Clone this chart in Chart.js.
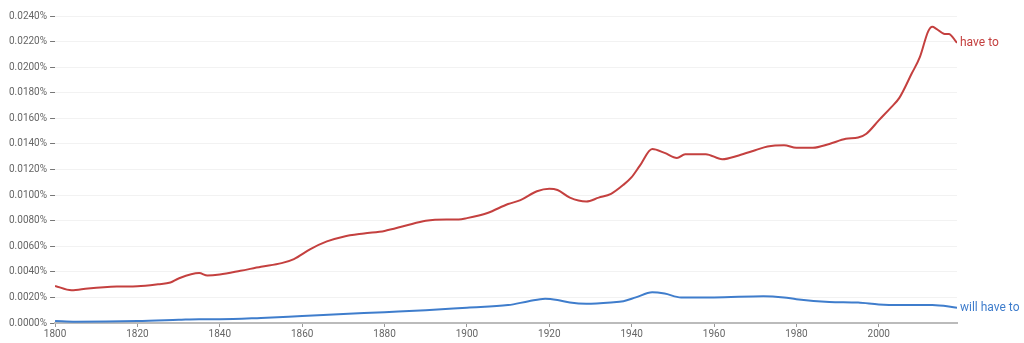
<!DOCTYPE html>
<html>
<head>
<meta charset="utf-8">
<script src="https://cdn.jsdelivr.net/npm/chart.js@4"></script>
<style>
  body { margin: 0; background: #fff; }
  #wrap { width: 1024px; height: 343px; }
</style>
</head>
<body>
<div id="wrap"><canvas id="ngram" width="1024" height="343"></canvas></div>
<script>
// values (percent of all bigrams)
var haveToYears = [1800,1804,1808,1815,1820,1825,1828,1830,1835,1837,1840,1845,1850,1855,1858,1862,1866,1870,1875,1880,1885,1890,1895,1898,1900,1905,1910,1913,1917,1920,1922,1925,1929,1932,1935,1938,1940,1942,1945,1948,1951,1953,1958,1962,1966,1970,1973,1977,1980,1984,1988,1992,1995,1997,2000,2003,2005,2008,2010,2012,2013,2014,2016,2017,2019];
var haveToValues = [0.00290,0.00256,0.00270,0.00285,0.00288,0.00303,0.00316,0.00348,0.00390,0.00371,0.00379,0.00408,0.00440,0.00468,0.00500,0.00578,0.00638,0.00675,0.00700,0.00720,0.00760,0.00800,0.00810,0.00810,0.00820,0.00860,0.00930,0.00960,0.01030,0.01050,0.01040,0.00980,0.00950,0.00980,0.01010,0.01080,0.01140,0.01230,0.01360,0.01330,0.01290,0.01320,0.01320,0.01280,0.01310,0.01350,0.01380,0.01390,0.01370,0.01370,0.01400,0.01440,0.01450,0.01480,0.01584,0.01686,0.01760,0.01950,0.02080,0.02280,0.02316,0.02300,0.02260,0.02260,0.02190];

var willHaveToYears = [1800,1805,1820,1830,1835,1840,1850,1860,1870,1880,1890,1900,1910,1915,1919,1922,1925,1929,1935,1938,1941,1945,1948,1952,1960,1972,1977,1980,1988,1995,2000,2005,2013,2019];
var willHaveToValues = [0.00016,0.00010,0.00015,0.00025,0.00030,0.00030,0.00040,0.00055,0.00070,0.00085,0.00100,0.00120,0.00140,0.00170,0.00190,0.00180,0.00160,0.00150,0.00160,0.00170,0.00200,0.00240,0.00230,0.00200,0.00200,0.00210,0.00200,0.00186,0.00165,0.00160,0.00145,0.00140,0.00140,0.00120];

var seriesNames = ['have to', 'will have to'];
var seriesColors = ['#c4403f', '#3f7dcc'];

var yTicks = [0, 0.002, 0.004, 0.006, 0.008, 0.010, 0.012, 0.014, 0.016, 0.018, 0.020, 0.022, 0.024];
var xTicks = [1800, 1820, 1840, 1860, 1880, 1900, 1920, 1940, 1960, 1980, 2000];

function toPoints(xs, ys) {
    return xs.map(function(x, i) { return { x: x, y: ys[i] }; });
}

// draws the series name right after the last point of each line
var endLabels = {
    id: 'endLabels',
    afterDatasetsDraw: function(chart) {
        var ctx = chart.ctx;
        ctx.save();
        ctx.font = '12px Roboto';
        ctx.textBaseline = 'middle';
        chart.data.datasets.forEach(function(ds, i) {
            var meta = chart.getDatasetMeta(i);
            var last = meta.data[meta.data.length - 1];
            ctx.fillStyle = ds.borderColor;
            ctx.fillText(ds.label, last.x + 3, last.y);
        });
        ctx.restore();
    }
};

new Chart(document.getElementById('ngram'), {
    type: 'line',
    data: {
        datasets: [
            { label: seriesNames[0], data: toPoints(haveToYears, haveToValues), borderColor: seriesColors[0] },
            { label: seriesNames[1], data: toPoints(willHaveToYears, willHaveToValues), borderColor: seriesColors[1] }
        ]
    },
    options: {
        responsive: false,
        animation: false,
        layout: { padding: { top: 16, right: 67, left: 6, bottom: 2 } },
        elements: {
            point: { radius: 0 },
            line: { borderWidth: 2, cubicInterpolationMode: 'monotone' }
        },
        plugins: { legend: { display: false }, tooltip: { enabled: false } },
        scales: {
            x: {
                type: 'linear',
                min: 1800,
                max: 2019,
                afterBuildTicks: function(axis) {
                    axis.ticks = xTicks.map(function(v) { return { value: v }; });
                },
                ticks: {
                    font: { family: 'Roboto', size: 10 },
                    color: '#666',
                    maxRotation: 0,
                    padding: 1,
                    callback: function(v) { return String(v); }
                },
                grid: { display: true, drawOnChartArea: false, tickLength: 4, tickColor: '#999' },
                border: { color: '#bbb', width: 2 }
            },
            y: {
                min: 0,
                max: 0.024,
                afterBuildTicks: function(axis) {
                    axis.ticks = yTicks.map(function(v) { return { value: v }; });
                },
                ticks: {
                    font: { family: 'Roboto', size: 10 },
                    color: '#666',
                    padding: 3,
                    callback: function(v) { return v.toFixed(4) + '%'; }
                },
                grid: { color: '#f2f2f2', tickLength: 5, tickColor: '#777' },
                border: { display: false }
            }
        }
    },
    plugins: [endLabels]
});
</script>
</body>
</html>
